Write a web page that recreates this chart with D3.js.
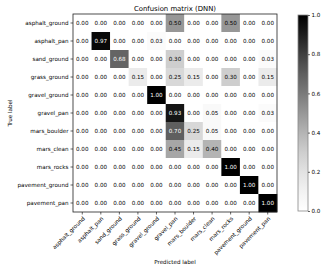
<!DOCTYPE html>
<html lang="en">
    <head>
        <meta charset="utf-8">
        <title>Confusion matrix (DNN)</title>
        <script type="text/javascript" src="https://d3js.org/d3.v7.min.js"></script>
        <style type="text/css">
            body { margin: 0; background: #fff; }
            text { font-family: "DejaVu Sans", sans-serif; fill: #000; }
        </style>
    </head>
    <body>
        <div id="cm"></div>
        <script type="text/javascript">

            // class names (rows = true, columns = predicted)
            var classes = ["asphalt_ground", "asphalt_pan", "sand_ground", "grass_ground", "gravel_ground",
                           "gravel_pan", "mars_boulder", "mars_clean", "mars_rocks", "pavement_ground", "pavement_pan"];

            // normalised confusion matrix, one row per true class
            var asphalt_ground  = [0, 0,    0,    0,    0,    0.50, 0,    0,    0.50, 0, 0];
            var asphalt_pan     = [0, 0.97, 0,    0,    0.03, 0,    0,    0,    0,    0, 0];
            var sand_ground     = [0, 0,    0.68, 0,    0,    0.30, 0,    0,    0,    0, 0.03];
            var grass_ground    = [0, 0,    0,    0.15, 0,    0.25, 0.15, 0,    0.30, 0, 0.15];
            var gravel_ground   = [0, 0,    0,    0,    1.00, 0,    0,    0,    0,    0, 0];
            var gravel_pan      = [0, 0,    0,    0,    0,    0.93, 0,    0.05, 0,    0, 0.03];
            var mars_boulder    = [0, 0,    0,    0,    0,    0.70, 0.25, 0.05, 0,    0, 0];
            var mars_clean      = [0, 0,    0,    0,    0,    0.45, 0.15, 0.40, 0,    0, 0];
            var mars_rocks      = [0, 0,    0,    0,    0,    0,    0,    0,    1.00, 0, 0];
            var pavement_ground = [0, 0,    0,    0,    0,    0,    0,    0,    0,    1.00, 0];
            var pavement_pan    = [0, 0,    0,    0,    0,    0,    0,    0,    0,    0, 1.00];

            var matrix = [asphalt_ground, asphalt_pan, sand_ground, grass_ground, gravel_ground,
                          gravel_pan, mars_boulder, mars_clean, mars_rocks, pavement_ground, pavement_pan];

            var cbarTicks = [0, 0.2, 0.4, 0.6, 0.8, 1.0];

            var W = 327, H = 270;
            var margin = {left: 73, top: 14},
                width = 204,
                height = 198;
            var fs = 5.6;

            var svg = d3.select("#cm")
                .append("svg")
                    .attr("width", W)
                    .attr("height", H);

            var x = d3.scaleBand().domain(d3.range(classes.length)).range([margin.left, margin.left + width]);
            var y = d3.scaleBand().domain(d3.range(classes.length)).range([margin.top, margin.top + height]);
            var color = d3.scaleSequential(d3.interpolateGreys).domain([0, 1]);

            var cells = [];
            matrix.forEach(function(row, i) {
                row.forEach(function(v, j) { cells.push({r: i, c: j, v: v}); });
            });

            // cells
            svg.append("g").selectAll("rect")
                .data(cells)
                .enter().append("rect")
                    .attr("x", function(d) { return x(d.c); })
                    .attr("y", function(d) { return y(d.r); })
                    .attr("width", x.bandwidth() + 0.3)
                    .attr("height", y.bandwidth() + 0.3)
                    .attr("fill", function(d) { return color(d.v); });

            // cell values
            svg.append("g").selectAll("text")
                .data(cells)
                .enter().append("text")
                    .attr("x", function(d) { return x(d.c) + x.bandwidth() / 2; })
                    .attr("y", function(d) { return y(d.r) + y.bandwidth() / 2; })
                    .attr("dy", "0.36em")
                    .attr("text-anchor", "middle")
                    .style("font-size", fs + "px")
                    .style("fill", function(d) { return d.v > 0.5 ? "#fff" : "#000"; })
                    .text(function(d) { return d.v.toFixed(2); });

            // frame
            svg.append("rect")
                .attr("x", margin.left).attr("y", margin.top)
                .attr("width", width).attr("height", height)
                .attr("fill", "none").attr("stroke", "#222").attr("stroke-width", 0.8);

            // y axis
            var yAxis = svg.append("g")
                .attr("transform", "translate(" + margin.left + ",0)")
                .call(d3.axisLeft(y).tickSize(2.5).tickPadding(2).tickFormat(function(i) { return classes[i]; }));
            yAxis.select(".domain").remove();
            yAxis.selectAll("text").style("font-size", fs + "px").attr("font-family", null);
            yAxis.selectAll("line").attr("stroke-width", 0.6);

            // x axis
            var xAxis = svg.append("g")
                .attr("transform", "translate(0," + (margin.top + height) + ")")
                .call(d3.axisBottom(x).tickSize(2.5).tickFormat(function(i) { return classes[i]; }));
            xAxis.select(".domain").remove();
            xAxis.selectAll("line").attr("stroke-width", 0.6);
            xAxis.selectAll("text")
                .style("font-size", fs + "px")
                .attr("font-family", null)
                .attr("text-anchor", "end")
                .attr("y", 0).attr("dy", 0)
                .attr("transform", "translate(3,7) rotate(-45)");

            // titles
            svg.append("text")
                .attr("x", margin.left + width / 2).attr("y", 11)
                .attr("text-anchor", "middle")
                .style("font-size", "6.9px")
                .text("Confusion matrix (DNN)");

            svg.append("text")
                .attr("x", margin.left + width / 2).attr("y", 264)
                .attr("text-anchor", "middle")
                .style("font-size", fs + "px")
                .text("Predicted label");

            svg.append("text")
                .attr("transform", "translate(12," + (margin.top + height / 2) + ") rotate(-90)")
                .attr("text-anchor", "middle")
                .style("font-size", fs + "px")
                .text("True label");

            // colorbar
            var cbX = 298, cbW = 10;
            var cy = d3.scaleLinear().domain([0, 1]).range([margin.top + height - 1, margin.top + 1]);
            var grad = svg.append("defs").append("linearGradient")
                .attr("id", "cbgrad")
                .attr("x1", 0).attr("y1", 1).attr("x2", 0).attr("y2", 0);
            d3.range(0, 1.01, 0.1).forEach(function(t) {
                grad.append("stop").attr("offset", t).attr("stop-color", color(t));
            });
            svg.append("rect")
                .attr("x", cbX).attr("y", cy(1))
                .attr("width", cbW).attr("height", cy(0) - cy(1))
                .attr("fill", "url(#cbgrad)")
                .attr("stroke", "#888").attr("stroke-width", 0.8);

            var cAxis = svg.append("g")
                .attr("transform", "translate(" + (cbX + cbW) + ",0)")
                .call(d3.axisRight(cy).tickValues(cbarTicks).tickSize(2).tickPadding(1.5).tickFormat(d3.format(".1f")));
            cAxis.select(".domain").remove();
            cAxis.selectAll("text").style("font-size", fs + "px").attr("font-family", null);
            cAxis.selectAll("line").attr("stroke-width", 0.6);
        </script>
    </body>
</html>
